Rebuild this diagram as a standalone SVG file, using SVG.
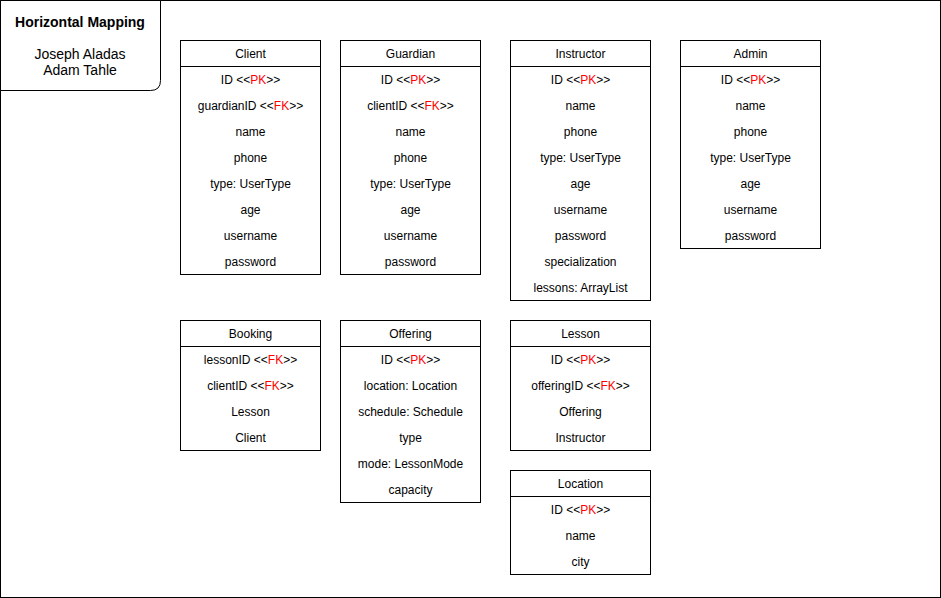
<svg xmlns="http://www.w3.org/2000/svg" width="941" height="598" viewBox="0 0 941 598">
<style>
.box{fill:#ffffff;stroke:#000000;stroke-width:1}
.ln{stroke:#000000;stroke-width:1}
text{font-family:"Liberation Sans",Arial,Helvetica,sans-serif;font-size:12px;fill:#000000;text-anchor:middle;dominant-baseline:central}
.k{fill:#ff0000}
.title{font-size:14px;font-weight:bold}
.author{font-size:14px}
</style>
<rect x="0.5" y="0.5" width="940" height="597" fill="#ffffff" stroke="#000000"/>
<g id="title">
<path d="M0.5 0.5 H160.5 V80.5 Q160.5 90.5 150.5 90.5 H0.5 Z" fill="#ffffff" stroke="#000000"/>
<text class="title" x="80" y="22">Horizontal Mapping</text>
<text class="author" x="80" y="54">Joseph Aladas</text>
<text class="author" x="80" y="70">Adam Tahle</text>
</g>
<g id="connectors"></g>
<g id="client">
<rect class="box" x="180.5" y="40.5" width="140" height="234"/>
<line class="ln" x1="180.5" y1="66.5" x2="320.5" y2="66.5"/>
<text x="250.5" y="53.5">Client</text>
<text x="250.5" y="79.5">ID &lt;&lt;<tspan class="k">PK</tspan>&gt;&gt;</text>
<text x="250.5" y="105.5">guardianID &lt;&lt;<tspan class="k">FK</tspan>&gt;&gt;</text>
<text x="250.5" y="131.5">name</text>
<text x="250.5" y="157.5">phone</text>
<text x="250.5" y="183.5">type: UserType</text>
<text x="250.5" y="209.5">age</text>
<text x="250.5" y="235.5">username</text>
<text x="250.5" y="261.5">password</text>
</g>
<g id="guardian">
<rect class="box" x="340.5" y="40.5" width="140" height="234"/>
<line class="ln" x1="340.5" y1="66.5" x2="480.5" y2="66.5"/>
<text x="410.5" y="53.5">Guardian</text>
<text x="410.5" y="79.5">ID &lt;&lt;<tspan class="k">PK</tspan>&gt;&gt;</text>
<text x="410.5" y="105.5">clientID &lt;&lt;<tspan class="k">FK</tspan>&gt;&gt;</text>
<text x="410.5" y="131.5">name</text>
<text x="410.5" y="157.5">phone</text>
<text x="410.5" y="183.5">type: UserType</text>
<text x="410.5" y="209.5">age</text>
<text x="410.5" y="235.5">username</text>
<text x="410.5" y="261.5">password</text>
</g>
<g id="instructor">
<rect class="box" x="510.5" y="40.5" width="140" height="260"/>
<line class="ln" x1="510.5" y1="66.5" x2="650.5" y2="66.5"/>
<text x="580.5" y="53.5">Instructor</text>
<text x="580.5" y="79.5">ID &lt;&lt;<tspan class="k">PK</tspan>&gt;&gt;</text>
<text x="580.5" y="105.5">name</text>
<text x="580.5" y="131.5">phone</text>
<text x="580.5" y="157.5">type: UserType</text>
<text x="580.5" y="183.5">age</text>
<text x="580.5" y="209.5">username</text>
<text x="580.5" y="235.5">password</text>
<text x="580.5" y="261.5">specialization</text>
<text x="580.5" y="287.5">lessons: ArrayList</text>
</g>
<g id="admin">
<rect class="box" x="680.5" y="40.5" width="140" height="208"/>
<line class="ln" x1="680.5" y1="66.5" x2="820.5" y2="66.5"/>
<text x="750.5" y="53.5">Admin</text>
<text x="750.5" y="79.5">ID &lt;&lt;<tspan class="k">PK</tspan>&gt;&gt;</text>
<text x="750.5" y="105.5">name</text>
<text x="750.5" y="131.5">phone</text>
<text x="750.5" y="157.5">type: UserType</text>
<text x="750.5" y="183.5">age</text>
<text x="750.5" y="209.5">username</text>
<text x="750.5" y="235.5">password</text>
</g>
<g id="booking">
<rect class="box" x="180.5" y="320.5" width="140" height="130"/>
<line class="ln" x1="180.5" y1="346.5" x2="320.5" y2="346.5"/>
<text x="250.5" y="333.5">Booking</text>
<text x="250.5" y="359.5">lessonID &lt;&lt;<tspan class="k">FK</tspan>&gt;&gt;</text>
<text x="250.5" y="385.5">clientID &lt;&lt;<tspan class="k">FK</tspan>&gt;&gt;</text>
<text x="250.5" y="411.5">Lesson</text>
<text x="250.5" y="437.5">Client</text>
</g>
<g id="offering">
<rect class="box" x="340.5" y="320.5" width="140" height="182"/>
<line class="ln" x1="340.5" y1="346.5" x2="480.5" y2="346.5"/>
<text x="410.5" y="333.5">Offering</text>
<text x="410.5" y="359.5">ID &lt;&lt;<tspan class="k">PK</tspan>&gt;&gt;</text>
<text x="410.5" y="385.5">location: Location</text>
<text x="410.5" y="411.5">schedule: Schedule</text>
<text x="410.5" y="437.5">type</text>
<text x="410.5" y="463.5">mode: LessonMode</text>
<text x="410.5" y="489.5">capacity</text>
</g>
<g id="lesson">
<rect class="box" x="510.5" y="320.5" width="140" height="130"/>
<line class="ln" x1="510.5" y1="346.5" x2="650.5" y2="346.5"/>
<text x="580.5" y="333.5">Lesson</text>
<text x="580.5" y="359.5">ID &lt;&lt;<tspan class="k">PK</tspan>&gt;&gt;</text>
<text x="580.5" y="385.5">offeringID &lt;&lt;<tspan class="k">FK</tspan>&gt;&gt;</text>
<text x="580.5" y="411.5">Offering</text>
<text x="580.5" y="437.5">Instructor</text>
</g>
<g id="location">
<rect class="box" x="510.5" y="470.5" width="140" height="104"/>
<line class="ln" x1="510.5" y1="496.5" x2="650.5" y2="496.5"/>
<text x="580.5" y="483.5">Location</text>
<text x="580.5" y="509.5">ID &lt;&lt;<tspan class="k">PK</tspan>&gt;&gt;</text>
<text x="580.5" y="535.5">name</text>
<text x="580.5" y="561.5">city</text>
</g>
</svg>
